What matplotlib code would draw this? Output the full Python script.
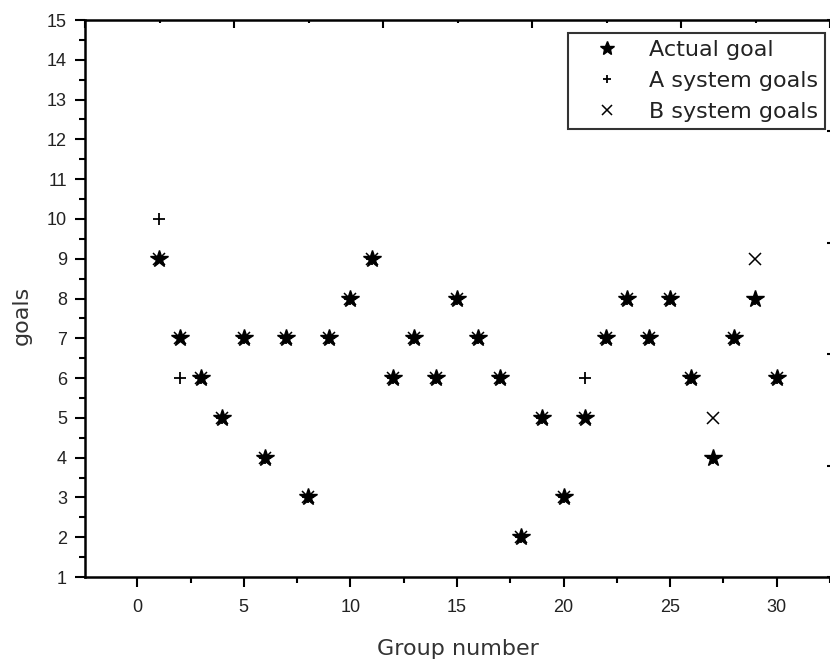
import numpy as np
import matplotlib
matplotlib.use("Agg")
import matplotlib.pyplot as plt
from matplotlib.ticker import MultipleLocator, NullFormatter

plt.rcParams['font.family'] = ['Liberation Sans', 'DejaVu Sans']

# data
group = list(range(1, 31))
actual = [9, 7, 6, 5, 7, 4, 7, 3, 7, 8, 9, 6, 7, 6, 8, 7, 6, 2, 5, 3,
          5, 7, 8, 7, 8, 6, 4, 7, 8, 6]
a_sys = [10, 6, 6, 5, 7, 4, 7, 3, 7, 8, 9, 6, 7, 6, 8, 7, 6, 2, 5, 3,
         6, 7, 8, 7, 8, 6, 4, 7, 8, 6]
b_sys = [9, 7, 6, 5, 7, 4, 7, 3, 7, 8, 9, 6, 7, 6, 8, 7, 6, 2, 5, 3,
         5, 7, 8, 7, 8, 6, 5, 7, 9, 6]

W, H = 830, 661
fig = plt.figure(figsize=(W / 100, H / 100), dpi=100)
ax = fig.add_axes([85 / W, (H - 577) / H, 745 / W, 557 / H])

ax.plot(group, actual, linestyle='none', marker='*', ms=13, color='black',
        label='Actual goal', zorder=3)
ax.plot(group, a_sys, linestyle='none', marker='+', ms=8, mew=1.3,
        color='black', label='A system goals', zorder=4)
ax.plot(group, b_sys, linestyle='none', marker='x', ms=9, mew=1.1,
        color='black', label='B system goals', zorder=4)

ax.set_xlim(-2.45, 32.5)
ax.set_ylim(1, 15)
ax.xaxis.set_major_locator(MultipleLocator(5))
ax.xaxis.set_minor_locator(MultipleLocator(2.5))
ax.yaxis.set_major_locator(MultipleLocator(1))
ax.yaxis.set_minor_locator(MultipleLocator(0.5))

ax.tick_params(which='major', direction='out', length=7, width=1.5,
               labelsize=13, labelcolor='#222', pad=6)
ax.tick_params(axis='x', which='major', pad=9)
ax.tick_params(which='minor', direction='out', length=4, width=1.5)
ax.tick_params(top=False, right=False)

for s in ['left', 'bottom', 'top']:
    ax.spines[s].set_linewidth(1.8)
ax.spines['right'].set_visible(False)

# mirrored top / right ticks (inward, unlabeled)
top = ax.twiny()
top.set_xlim(0, 1)
top.xaxis.set_major_locator(MultipleLocator(0.2))
top.xaxis.set_minor_locator(MultipleLocator(0.1))
top.tick_params(which='major', direction='in', length=5.5, width=1.5,
                labeltop=False)
top.tick_params(which='minor', direction='in', length=2, width=1.5)
top.xaxis.set_major_formatter(NullFormatter())
for s in top.spines.values():
    s.set_visible(False)

right = ax.twinx()
right.set_ylim(0, 1)
right.yaxis.set_major_locator(MultipleLocator(0.2))
right.tick_params(direction='in', length=2, width=1.5, labelright=False)
for s in right.spines.values():
    s.set_visible(False)

ax.set_xlabel('Group number', fontsize=16, color='#333',
              family=['DejaVu Sans'])
ax.set_ylabel('goals', fontsize=16, color='#333', family=['DejaVu Sans'])
ax.xaxis.set_label_coords(0.5, -0.112)
ax.yaxis.set_label_coords(-0.072, 0.47)

leg = ax.legend(loc='upper right', bbox_to_anchor=(825 / W, 1 - 33 / H),
                bbox_transform=fig.transFigure, borderaxespad=0,
                prop={'family': 'DejaVu Sans', 'size': 16},
                frameon=True, fancybox=False, edgecolor='black',
                handlelength=2.9, handletextpad=0.45, labelspacing=0.5,
                borderpad=0.3, markerscale=0.8)
leg.get_frame().set_linewidth(1.5)
for t in leg.get_texts():
    t.set_color('#222')

fig.savefig('out.png', dpi=100)
